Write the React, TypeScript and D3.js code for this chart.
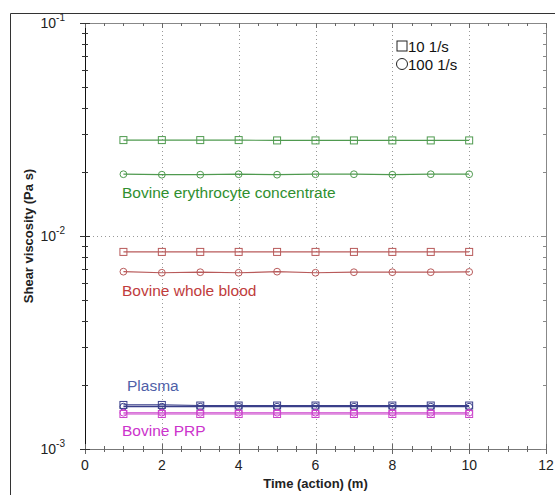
import React, { useEffect, useRef } from 'react';
import * as d3 from 'd3';

// time points (min)
const times = [1, 2, 3, 4, 5, 6, 7, 8, 9, 10];

// shear viscosity (Pa s) at 10 1/s (squares) and 100 1/s (circles)
const erySquare = [0.0282, 0.0282, 0.0282, 0.0282, 0.0281, 0.0281, 0.0281, 0.0281, 0.0281, 0.0281];
const eryCircle = [0.0195, 0.0194, 0.0194, 0.0195, 0.0194, 0.0195, 0.0195, 0.0194, 0.0195, 0.0195];
const wbSquare = [0.00842, 0.00842, 0.00842, 0.00842, 0.00842, 0.00842, 0.00842, 0.00842, 0.00842, 0.00842];
const wbCircle = [0.00680, 0.00672, 0.00676, 0.00672, 0.00680, 0.00672, 0.00676, 0.00676, 0.00676, 0.00678];
const plasmaSquare = [0.00161, 0.00161, 0.00160, 0.00160, 0.00160, 0.00160, 0.00160, 0.00160, 0.00160, 0.00160];
const plasmaCircle = [0.00158, 0.00158, 0.00158, 0.00158, 0.00158, 0.00158, 0.00158, 0.00158, 0.00158, 0.00158];
const prpSquare = [0.00146, 0.00146, 0.00146, 0.00146, 0.00146, 0.00146, 0.00146, 0.00146, 0.00146, 0.00146];
const prpCircle = [0.00148, 0.00148, 0.00148, 0.00148, 0.00148, 0.00148, 0.00148, 0.00148, 0.00148, 0.00148];

const groups = [
  { name: 'Bovine erythrocyte concentrate', sq: erySquare, ci: eryCircle, color: '#4f9a4f', text: '#2f8f2f', labelAt: 0.0151, lx: 122 },
  { name: 'Bovine whole blood', sq: wbSquare, ci: wbCircle, color: '#b85a5a', text: '#c03c3c', labelAt: 0.0052, lx: 122 },
  { name: 'Plasma', sq: plasmaSquare, ci: plasmaCircle, color: '#3a3f8a', text: '#4f5fa8', labelAt: 0.00188, lx: 127 },
  { name: 'Bovine PRP', sq: prpSquare, ci: prpCircle, color: '#cc44cc', text: '#cc33cc', labelAt: 0.00115, lx: 122 },
];

const xTicks = [0, 2, 4, 6, 8, 10, 12];
const yDecades = [1e-3, 1e-2, 1e-1];
const yExp = ['-3', '-2', '-1'];

export default function App() {
  const ref = useRef<SVGSVGElement>(null);

  useEffect(() => {
    const W = 555, H = 495;
    const left = 85, right = 546, top = 23, bottom = 449;
    const svg = d3.select(ref.current);
    svg.selectAll('*').remove();
    const font = 'Arial, "Liberation Sans", sans-serif';

    const x = d3.scaleLinear().domain([0, 12]).range([left, right]);
    const y = d3.scaleLog().domain([1e-3, 1e-1]).range([bottom, top]);

    svg.append('rect').attr('width', W).attr('height', H).attr('fill', '#fff');

    // outer frame
    svg.append('path').attr('d', `M10.5,${H}V13.5H${W}`).attr('fill', 'none').attr('stroke', '#333').attr('stroke-width', 1);

    // grid
    const grid = svg.append('g').attr('stroke', '#999').attr('stroke-dasharray', '1,3').attr('stroke-width', 1);
    [2, 4, 6, 8, 10].forEach(t => {
      grid.append('line').attr('x1', Math.round(x(t)) + 0.5).attr('x2', Math.round(x(t)) + 0.5).attr('y1', top).attr('y2', bottom);
    });
    grid.append('line').attr('x1', left).attr('x2', right).attr('y1', Math.round(y(1e-2)) + 0.5).attr('y2', Math.round(y(1e-2)) + 0.5);

    // axes lines
    const ax = svg.append('g').attr('stroke-width', 1).attr('fill', 'none');
    ax.append('line').attr('x1', left).attr('x2', right).attr('y1', bottom + 0.5).attr('y2', bottom + 0.5).attr('stroke', '#777');
    ax.append('line').attr('x1', left).attr('x2', right).attr('y1', top + 0.5).attr('y2', top + 0.5).attr('stroke', '#888');
    ax.append('line').attr('x1', right + 0.5).attr('x2', right + 0.5).attr('y1', top).attr('y2', bottom).attr('stroke', '#888');
    ax.append('line').attr('x1', left + 0.5).attr('x2', left + 0.5).attr('y1', top).attr('y2', bottom).attr('stroke', '#111');

    // x ticks (major and minor)
    const xt = svg.append('g').attr('stroke', '#666');
    d3.range(0, 12.01, 0.5).forEach(t => {
      const major = Math.abs(t % 2) < 1e-9;
      const px = Math.round(x(t)) + 0.5;
      const l = major ? 5 : 3;
      xt.append('line').attr('x1', px).attr('x2', px).attr('y1', bottom - l).attr('y2', bottom + l);
      xt.append('line').attr('x1', px).attr('x2', px).attr('y1', top).attr('y2', top + l);
    });

    // y ticks (log minor)
    const yt = svg.append('g').attr('stroke', '#333');
    [1e-3, 1e-2].forEach(d => {
      for (let k = 1; k <= 10; k++) {
        const v = d * k;
        const py = Math.round(y(v)) + 0.5;
        const l = (k === 1 || k === 10) ? 5 : 3;
        yt.append('line').attr('x1', left - l).attr('x2', left + l).attr('y1', py).attr('y2', py);
        yt.append('line').attr('x1', right - l).attr('x2', right).attr('y1', py).attr('y2', py).attr('stroke', '#888');
      }
    });

    // x tick labels
    svg.append('g').selectAll('text').data(xTicks).join('text')
      .attr('x', d => x(d)).attr('y', bottom + 21)
      .attr('text-anchor', 'middle').attr('font-family', font).attr('font-size', 14).attr('fill', '#222')
      .text(d => d);

    // y tick labels 10^n
    yDecades.forEach((d, i) => {
      const t = svg.append('text').attr('x', left - 20).attr('y', y(d) + 5)
        .attr('text-anchor', 'end').attr('font-family', font).attr('font-size', 14).attr('fill', '#222');
      t.append('tspan').text('10');
      t.append('tspan').attr('dy', -7).attr('font-size', 10).text(yExp[i]);
    });

    // axis titles
    svg.append('text').attr('x', (left + right) / 2).attr('y', 488)
      .attr('text-anchor', 'middle').attr('font-family', font).attr('font-size', 13).attr('font-weight', 'bold').attr('fill', '#222')
      .text('Time (action) (m)');
    svg.append('text').attr('transform', `translate(33,${(top + bottom) / 2}) rotate(-90)`)
      .attr('text-anchor', 'middle').attr('font-family', font).attr('font-size', 13).attr('font-weight', 'bold').attr('fill', '#222')
      .text('Shear viscosity (Pa s)');

    // series
    const line = d3.line<[number, number]>().x(d => x(d[0])).y(d => y(d[1]));
    groups.forEach(g => {
      const gg = svg.append('g');
      [g.sq, g.ci].forEach(vals => {
        gg.append('path').attr('d', line(times.map((t, i) => [t, vals[i]]))!)
          .attr('fill', 'none').attr('stroke', g.color).attr('stroke-width', 1.2);
      });
      times.forEach((t, i) => {
        gg.append('rect').attr('x', x(t) - 3.5).attr('y', y(g.sq[i]) - 3.5).attr('width', 7).attr('height', 7)
          .attr('fill', 'none').attr('stroke', g.color).attr('stroke-width', 1);
        gg.append('circle').attr('cx', x(t)).attr('cy', y(g.ci[i])).attr('r', 3.4)
          .attr('fill', 'none').attr('stroke', g.color).attr('stroke-width', 1);
      });
      svg.append('text').attr('x', g.lx).attr('y', y(g.labelAt))
        .attr('font-family', font).attr('font-size', 15.5).attr('fill', g.text).text(g.name);
    });

    // legend
    const lg = svg.append('g').attr('font-family', font).attr('font-size', 15).attr('fill', '#111');
    lg.append('rect').attr('x', 397).attr('y', 41).attr('width', 10).attr('height', 10).attr('fill', 'none').attr('stroke', '#222');
    lg.append('text').attr('x', 408).attr('y', 52).text('10 1/s');
    lg.append('circle').attr('cx', 402).attr('cy', 64).attr('r', 5.5).attr('fill', 'none').attr('stroke', '#222');
    lg.append('text').attr('x', 408).attr('y', 70).text('100 1/s');
  }, []);

  return (
    <svg ref={ref} width={555} height={495} style={{ position: 'absolute', left: 0, top: 0 }} />
  );
}
